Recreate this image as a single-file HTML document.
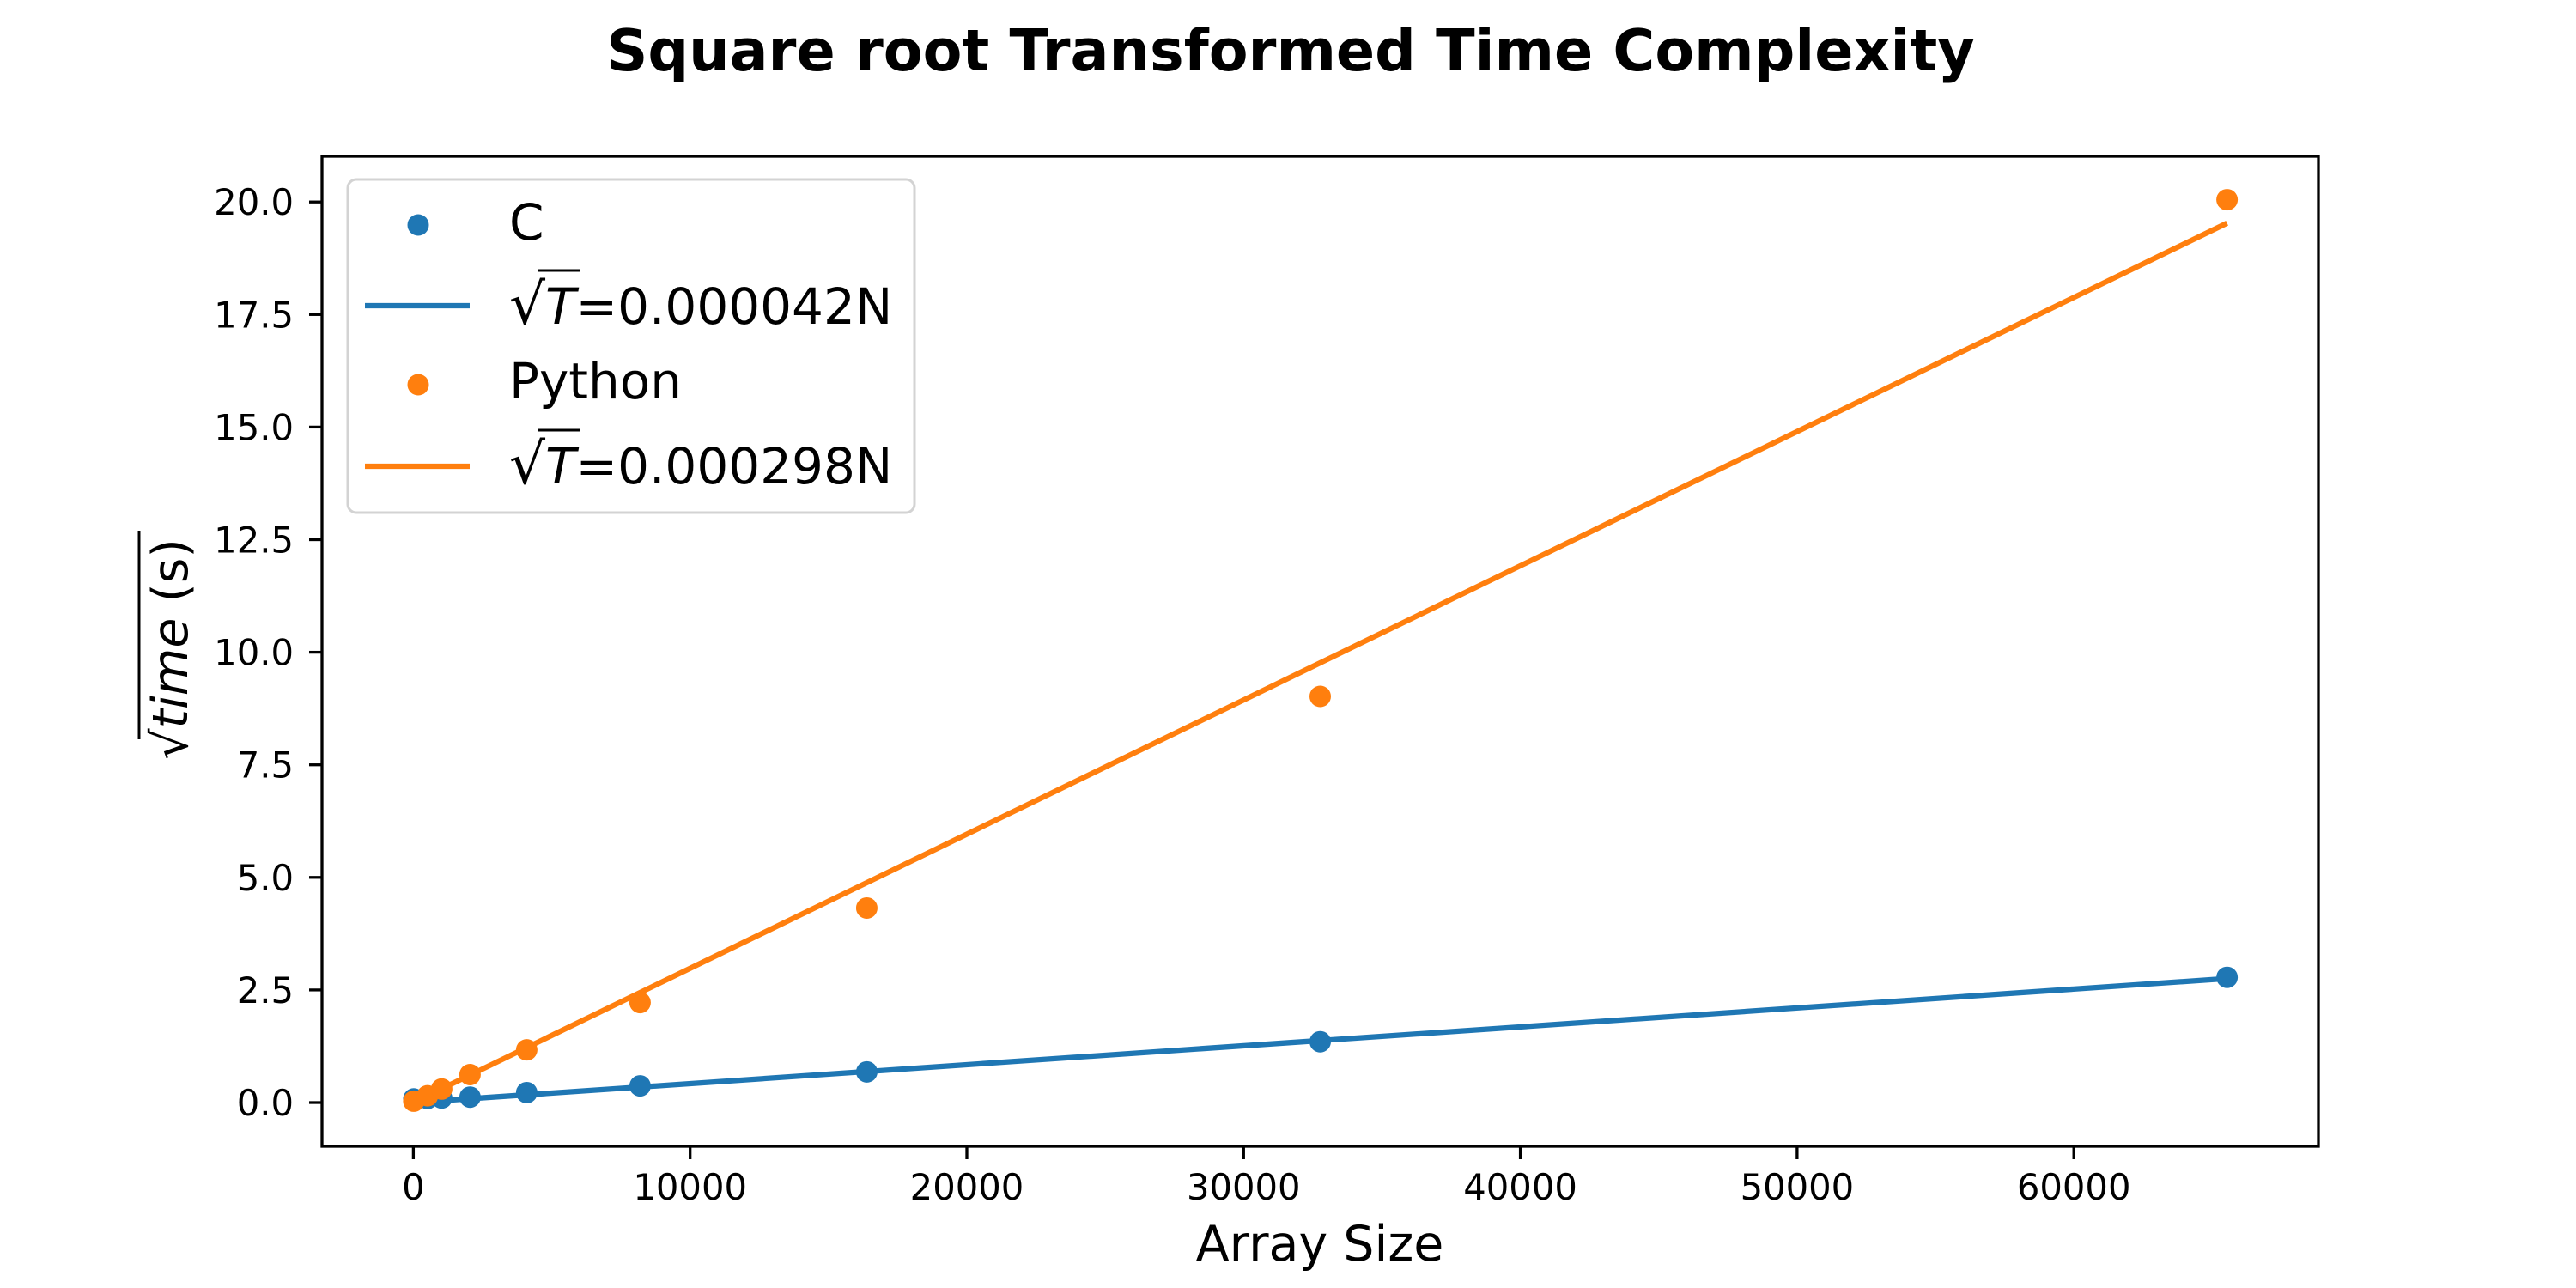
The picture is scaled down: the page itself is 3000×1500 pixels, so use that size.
<!DOCTYPE html>
<html><head><meta charset="utf-8"><style>
html,body{margin:0;padding:0;background:#fff}
svg{display:block}
text{font-family:"DejaVu Sans","Liberation Sans",sans-serif;fill:#000}
</style></head><body>
<svg id="chart" width="3000" height="1500" viewBox="0 0 3000 1500" xmlns="http://www.w3.org/2000/svg">
<rect width="3000" height="1500" fill="#fff"/>
<text x="1503" y="82" font-size="66.7" font-weight="bold" text-anchor="middle">Square root Transformed Time Complexity</text>
<g id="plot"></g>
<g id="axes"></g>
<text x="1537" y="1468" font-size="57" text-anchor="middle">Array Size</text>
<g transform="translate(218,756) rotate(-90)">
  <text x="0" y="0" font-size="57" font-style="italic" text-anchor="middle"><tspan font-style="normal">√</tspan>time <tspan font-style="normal">(s)</tspan></text>
  <line x1="-105" y1="-56" x2="138" y2="-56" stroke="#000" stroke-width="3"/>
</g>
<g id="legend">
  <rect x="405" y="209" width="660" height="388" rx="10" fill="#fff" fill-opacity="0.8" stroke="#d3d3d3" stroke-width="3"/>
  <circle cx="487" cy="262" r="12.5" fill="#1f77b4"/>
  <text x="593" y="279" font-size="58">C</text>
  <line x1="425" y1="356" x2="547" y2="356" stroke="#1f77b4" stroke-width="6.25"/>
  <text x="593" y="377" font-size="58"><tspan font-size="66">√</tspan><tspan font-style="italic">T</tspan>=0.000042N</text>
  <line x1="626" y1="315" x2="676" y2="315" stroke="#000" stroke-width="3"/>
  <circle cx="487" cy="448" r="12.5" fill="#ff7f0e"/>
  <text x="593" y="464" font-size="58">Python</text>
  <line x1="425" y1="543" x2="547" y2="543" stroke="#ff7f0e" stroke-width="6.25"/>
  <text x="593" y="563" font-size="58"><tspan font-size="66">√</tspan><tspan font-style="italic">T</tspan>=0.000298N</text>
  <line x1="626" y1="501" x2="676" y2="501" stroke="#000" stroke-width="3"/>
</g>
</svg>
<script>
const sizes = [16, 512, 1024, 2048, 4096, 8192, 16384, 32768, 65536];
const cValues = [0.08, 0.09, 0.1, 0.12, 0.22, 0.37, 0.68, 1.35, 2.78];
const pyValues = [0.03, 0.15, 0.3, 0.62, 1.17, 2.22, 4.32, 9.02, 20.05];
const cSlope = 0.000042;
const pySlope = 0.000298;
const xTicks = [0, 10000, 20000, 30000, 40000, 50000, 60000];
const yTicks = [0, 2.5, 5, 7.5, 10, 12.5, 15, 17.5, 20];
const yTickLabels = ["0.0","2.5","5.0","7.5","10.0","12.5","15.0","17.5","20.0"];

const NS = "http://www.w3.org/2000/svg";
const L = 375, R = 2700, T = 182, B = 1335;
const xMin = -3301, xMax = 68837;
const y0px = 1284, yPer = 131.1 / 2.5;
function xs(v){ return L + (v - xMin) / (xMax - xMin) * (R - L); }
function ys(v){ return y0px - v * yPer; }
function mk(tag, attrs, parent){
  const e = document.createElementNS(NS, tag);
  for (const k in attrs) e.setAttribute(k, attrs[k]);
  parent.appendChild(e);
  return e;
}
const plot = document.getElementById('plot');
const axes = document.getElementById('axes');

function drawSeries(vals, slope, color, name){
  const x1 = sizes[0], x2 = sizes[sizes.length-1];
  const ln = mk('line', {x1: xs(x1), y1: ys(slope*x1), x2: xs(x2), y2: ys(slope*x2), stroke: color, 'stroke-width': 6.25}, plot);
  
  
  vals.forEach((v, i) => {
    const c = mk('circle', {cx: xs(sizes[i]), cy: ys(v), r: 12.5, fill: color}, plot);
    
    
  });
}
drawSeries(cValues, cSlope, '#1f77b4', 'c');
drawSeries(pyValues, pySlope, '#ff7f0e', 'python');

const frame = mk('rect', {x: L, y: T, width: R-L, height: B-T, fill: 'none', stroke: '#000', 'stroke-width': 3.3}, axes);



xTicks.forEach(v => {
  const x = xs(v);
  const t = mk('line', {x1: x, y1: B, x2: x, y2: B+15, stroke: '#000', 'stroke-width': 3.3}, axes);
  
  
  const lb = mk('text', {x: x, y: 1397, 'font-size': 41.7, 'text-anchor': 'middle'}, axes);
  lb.textContent = String(v);
  
  
});
yTicks.forEach((v, i) => {
  const y = ys(v);
  const t = mk('line', {x1: L-15, y1: y, x2: L, y2: y, stroke: '#000', 'stroke-width': 3.3}, axes);
  
  
  const lb = mk('text', {x: 342, y: y + 15, 'font-size': 41.7, 'text-anchor': 'end'}, axes);
  lb.textContent = yTickLabels[i];
  
  
});
</script>
</body></html>
